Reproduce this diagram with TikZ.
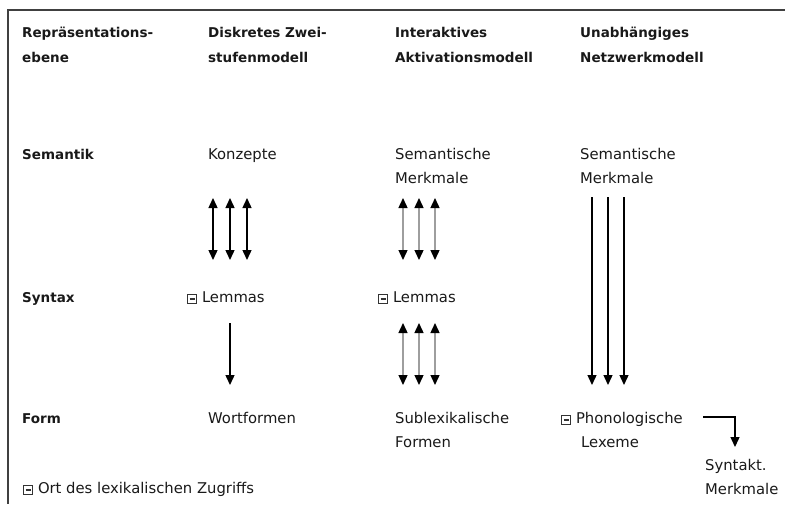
\documentclass[tikz,border=0pt]{standalone}
\usepackage{fontspec}
\setmainfont{DejaVu Sans}
\usetikzlibrary{arrows.meta}
\tikzset{
  txt/.style={anchor=base west, inner sep=0pt, text=black!90,
              font=\fontsize{14.8}{25}\selectfont},
  txtb/.style={txt, font=\fontsize{13.5}{25}\selectfont\bfseries},
  link/.style={line width=1.4pt, draw=black,
               >={Triangle[width=9pt,length=10pt,color=black]}},
  greylink/.style={link, draw=black!38},
  frame/.style={line width=1.3pt, draw=black!75}
}
% marker for the place of lexical access: framed square with a bar
\newcommand{\accmark}{\raisebox{0.6pt}{\color{black!80}\fboxsep=1.4pt\fboxrule=1pt%
  \fbox{\rule{0pt}{5pt}\rule[1.4pt]{5pt}{2.2pt}}}\hspace{5pt}}
\begin{document}
\begin{tikzpicture}[x=1pt,y=-1pt]
  \useasboundingbox (0,0) rectangle (785,504);
  % open frame: top and left edge
  \draw[frame] (785,10) -- (8,10) -- (8,504);

  % column headings
  \node[txtb] (h1a) at (22,37) {Repräsentations-};
  \node[txtb] (h1b) at (22,62) {ebene};
  \node[txtb] (h2a) at (208,37) {Diskretes Zwei-};
  \node[txtb] (h2b) at (208,62) {stufenmodell};
  \node[txtb] (h3a) at (395,37) {Interaktives};
  \node[txtb] (h3b) at (395,62) {Aktivationsmodell};
  \node[txtb] (h4a) at (580,37) {Unabhängiges};
  \node[txtb] (h4b) at (580,62) {Netzwerkmodell};

  % row labels
  \node[txtb] (sem) at (22,159) {Semantik};
  \node[txtb] (syn) at (22,302) {Syntax};
  \node[txtb] (frm) at (22,423) {Form};

  % discrete two-stage model
  \node[txt] (konz) at (208,159) {Konzepte};
  \node[txt] (lem2) at (187,302) {\accmark Lemmas};
  \node[txt] (wort) at (208,423) {Wortformen};

  % interactive activation model
  \node[txt] (sm3a) at (395,159) {Semantische};
  \node[txt] (sm3b) at (395,183) {Merkmale};
  \node[txt] (lem3) at (378,302) {\accmark Lemmas};
  \node[txt] (sub3a) at (395,423) {Sublexikalische};
  \node[txt] (sub3b) at (395,447) {Formen};

  % independent network model
  \node[txt] (sm4a) at (580,159) {Semantische};
  \node[txt] (sm4b) at (580,183) {Merkmale};
  \node[txt] (pho4a) at (561,423) {\accmark Phonologische};
  \node[txt] (pho4b) at (581,447) {Lexeme};
  \node[txt] (synm a) at (705,470) {Syntakt.};
  \node[txt] (synm b) at (705,494) {Merkmale};

  % legend
  \node[txt] (legend) at (23,493) {\accmark Ort des lexikalischen Zugriffs};

  % arrow end points
  \foreach \n/\x in {1/213,2/230,3/247}{
    \coordinate (a\n t) at (\x,198);
    \coordinate (a\n b) at (\x,260);
  }
  \foreach \n/\x in {1/403,2/419,3/435}{
    \coordinate (b\n t) at (\x,198);
    \coordinate (b\n b) at (\x,260);
    \coordinate (c\n t) at (\x,323);
    \coordinate (c\n b) at (\x,385);
  }
  \foreach \n/\x in {1/592,2/608,3/624}{
    \coordinate (d\n t) at (\x,197);
    \coordinate (d\n b) at (\x,385);
  }
  \coordinate (e t) at (230,323);
  \coordinate (e b) at (230,385);
  \coordinate (f s) at (703,417);
  \coordinate (f b) at (735,447);

  % connectors
  \foreach \n in {1,2,3}{
    \draw[link, <->] (a\n t) -- (a\n b);
    \draw[greylink, <->] (b\n t) -- (b\n b);
    \draw[greylink, <->] (c\n t) -- (c\n b);
    \draw[link, ->] (d\n t) -- (d\n b);
  }
  \draw[link, ->] (e t) -- (e b);
  \draw[link, ->] (f s) -| (f b);
\end{tikzpicture}
\end{document}
